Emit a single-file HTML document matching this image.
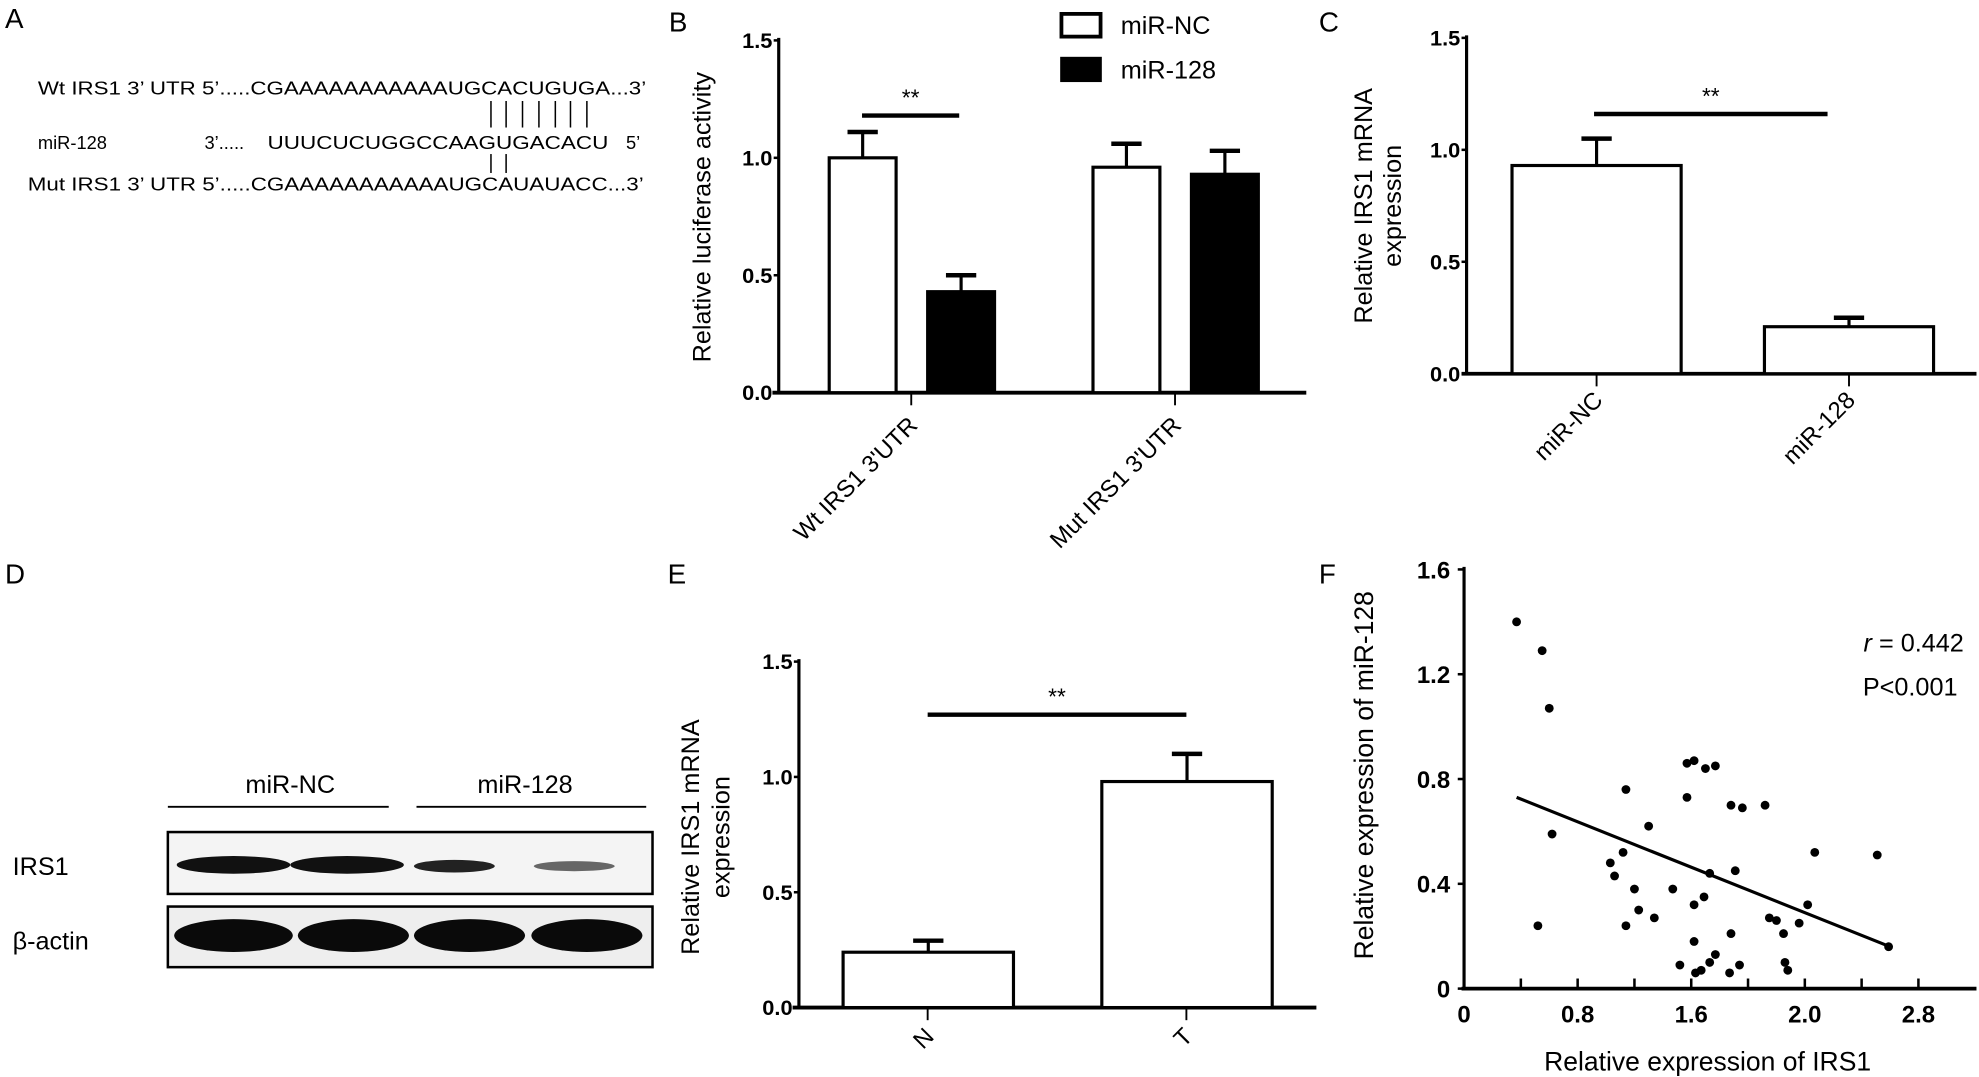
<!DOCTYPE html>
<html><head><meta charset="utf-8"><style>
html,body{margin:0;padding:0;background:#fff;}
svg{display:block;font-family:"Liberation Sans",sans-serif;}
</style></head><body>
<svg id="fig" width="1979" height="1077" viewBox="0 0 1568 853" preserveAspectRatio="none" xmlns="http://www.w3.org/2000/svg">
<g font-size="22">
<text x="4" y="22">A</text><text x="530" y="25">B</text><text x="1045" y="25">C</text>
<text x="4" y="462">D</text><text x="529" y="462">E</text><text x="1045" y="462">F</text>
</g>
<!-- Panel A -->
<g font-size="14.5">
<text x="30" y="75" textLength="482" lengthAdjust="spacingAndGlyphs">Wt IRS1 3’ UTR 5’.....CGAAAAAAAAAAAUGCACUGUGA...3’</text>
<text x="30" y="118">miR-128</text>
<text x="162" y="118">3’.....</text>
<text x="212" y="118" textLength="270" lengthAdjust="spacingAndGlyphs">UUUCUCUGGCCAAGUGACACU</text>
<text x="496" y="118">5’</text>
<text x="22" y="151" textLength="488" lengthAdjust="spacingAndGlyphs">Mut IRS1 3’ UTR 5’.....CGAAAAAAAAAAAUGCAUAUACC...3’</text>
<g stroke="#000" stroke-width="1.2">
<line x1="389" y1="80" x2="389" y2="101"/><line x1="401" y1="80" x2="401" y2="101"/><line x1="414" y1="80" x2="414" y2="101"/><line x1="427" y1="80" x2="427" y2="101"/><line x1="440" y1="80" x2="440" y2="101"/><line x1="452" y1="80" x2="452" y2="101"/><line x1="465" y1="80" x2="465" y2="101"/>
<line x1="389" y1="122" x2="389" y2="137"/><line x1="401" y1="122" x2="401" y2="137"/>
</g></g>
<!-- Panel D -->
<g>
<text x="230" y="628" font-size="20" text-anchor="middle">miR-NC</text>
<text x="416" y="628" font-size="20" text-anchor="middle">miR-128</text>
<line x1="133" y1="639" x2="308" y2="639" stroke="#000" stroke-width="1.5"/>
<line x1="330" y1="639" x2="512" y2="639" stroke="#000" stroke-width="1.5"/>
<text x="10" y="693" font-size="20">IRS1</text>
<text x="10" y="752" font-size="20">β-actin</text>
<rect x="133" y="659" width="384" height="49" fill="#f4f4f4" stroke="#000" stroke-width="2"/>
<rect x="133" y="718" width="384" height="48" fill="#eeeeee" stroke="#000" stroke-width="2"/>
<ellipse cx="185" cy="685" rx="45" ry="7" fill="#111"/>
<ellipse cx="275" cy="685" rx="45" ry="7" fill="#111"/>
<ellipse cx="360" cy="686" rx="32" ry="5" fill="#222"/>
<ellipse cx="455" cy="686" rx="32" ry="4" fill="#666"/>
<ellipse cx="185" cy="741" rx="47" ry="13" fill="#0a0a0a"/>
<ellipse cx="280" cy="741" rx="44" ry="13" fill="#0a0a0a"/>
<ellipse cx="372" cy="741" rx="44" ry="13" fill="#0a0a0a"/>
<ellipse cx="465" cy="741" rx="44" ry="13" fill="#0a0a0a"/>
</g>
<g id="gB"></g>
<g id="gC"></g>
<g id="gE"></g>
<g id="gF"></g>
</svg>
<script>
// Panel B data
const bCategories = ["Wt IRS1 3'UTR", "Mut IRS1 3'UTR"];
const bNC = [1.00, 0.96];
const bNCerr = [0.11, 0.10];
const b128 = [0.43, 0.93];
const b128err = [0.07, 0.10];
const bTicks = [0, 0.5, 1.0, 1.5];
const bTickLabels = ["0.0", "0.5", "1.0", "1.5"];
// Panel C data
const cCategories = ["miR-NC", "miR-128"];
const cValues = [0.93, 0.21];
const cErr = [0.12, 0.04];
const cTicks = [0, 0.5, 1.0, 1.5];
const cTickLabels = ["0.0", "0.5", "1.0", "1.5"];
// Panel E data
const eCategories = ["N", "T"];
const eValues = [0.24, 0.98];
const eErr = [0.05, 0.12];
const eTicks = [0, 0.5, 1.0, 1.5];
const eTickLabels = ["0.0", "0.5", "1.0", "1.5"];
// Panel F data
const fX = [0.37,0.55,0.60,0.62,0.52,1.14,1.30,1.03,1.12,1.06,1.20,1.47,1.34,1.14,1.23,1.57,1.62,1.57,1.70,1.77,1.88,1.96,2.12,2.47,2.91,1.73,1.91,1.62,1.69,2.15,2.20,2.36,2.42,2.25,1.62,1.88,1.77,1.73,1.63,1.67,1.87,2.26,2.28,2.99,1.94,1.52];
const fY = [1.40,1.29,1.07,0.59,0.24,0.76,0.62,0.48,0.52,0.43,0.38,0.38,0.27,0.24,0.30,0.86,0.87,0.73,0.84,0.85,0.70,0.69,0.70,0.52,0.51,0.44,0.45,0.32,0.35,0.27,0.26,0.25,0.32,0.21,0.18,0.21,0.13,0.10,0.06,0.07,0.06,0.10,0.07,0.16,0.09,0.09];
const fFitX = [0.37, 3.0];
const fFitY = [0.73, 0.16];
const fXTicks = [0, 0.8, 1.6, 2.4, 3.2];
const fXTickLabels = ["0", "0.8", "1.6", "2.0", "2.8"];
const fYTicks = [0, 0.4, 0.8, 1.2, 1.6];
const fYTickLabels = ["0", "0.4", "0.8", "1.2", "1.6"];

const NS = "http://www.w3.org/2000/svg";
function mk(parent, tag, attrs, txt) {
  const e = document.createElementNS(NS, tag);
  for (const k in attrs) e.setAttribute(k, attrs[k]);
  if (txt !== undefined) e.textContent = txt;
  parent.appendChild(e);
  return e;
}
function yAxis(g, x, y0, y1, vmax, ticks, labels) {
  const ys = v => y0 - (v / vmax) * (y0 - y1);
  const ax = mk(g, "line", {x1: x, y1: y0, x2: x, y2: y1 - 2, stroke: "#000", "stroke-width": 2.5});
  
  
  ticks.forEach((t, i) => {
    mk(g, "line", {x1: x - 4, y1: ys(t), x2: x, y2: ys(t), stroke: "#000", "stroke-width": 2});
    const tl = mk(g, "text", {x: x - 5, y: ys(t) + 6, "font-size": 17, "font-weight": "bold", "text-anchor": "end", textLength: 24, lengthAdjust: "spacingAndGlyphs"}, labels[i]);
    
    
  });
  return ys;
}
function bar(g, x, w, ys, v, err, fill, name) {
  const top = ys(v + err);
  mk(g, "line", {x1: x + w / 2, y1: ys(v), x2: x + w / 2, y2: top, stroke: "#000", "stroke-width": 2.5});
  mk(g, "line", {x1: x + w / 2 - 12, y1: top, x2: x + w / 2 + 12, y2: top, stroke: "#000", "stroke-width": 3.5});
  const r = mk(g, "rect", {x: x, y: ys(v), width: w, height: ys(0) - ys(v), fill: fill, stroke: "#000", "stroke-width": 2.5});
  
  
}
function xLabel(g, x, y, txt) {
  const t = mk(g, "text", {x: x, y: y, "font-size": 19, "text-anchor": "end", transform: `rotate(-45 ${x} ${y})`}, txt);
  
  
}
function sig(g, x1, x2, y) {
  const l = mk(g, "line", {x1: x1, y1: y, x2: x2, y2: y, stroke: "#000", "stroke-width": 3.5});
  
  
  mk(g, "text", {x: (x1 + x2) / 2, y: y - 8, "font-size": 18, "text-anchor": "middle"}, "**");
}

// Panel B
(function () {
  const g = document.getElementById("gB");
  const ys = yAxis(g, 617, 311, 32, 1.5, bTicks, bTickLabels);
  mk(g, "line", {x1: 612, y1: 311, x2: 1035, y2: 311, stroke: "#000", "stroke-width": 3});
  const centers = [722, 931];
  bCategories.forEach((c, i) => {
    bar(g, centers[i] - 65, 53, ys, bNC[i], bNCerr[i], "#fff", "bar-mir-nc");
    bar(g, centers[i] + 13, 53, ys, b128[i], b128err[i], "#000", "bar-mir-128");
    mk(g, "line", {x1: centers[i], y1: 311, x2: centers[i], y2: 321, stroke: "#000", "stroke-width": 1.5});
    xLabel(g, centers[i] + 6, 338, c);
  });
  sig(g, 683, 760, ys(1.18));
  const t = mk(g, "text", {x: 0, y: 0, "font-size": 20, "text-anchor": "middle", transform: "translate(563 172) rotate(-90)"}, "Relative luciferase activity");
  
  
  const l1 = mk(g, "rect", {x: 841, y: 11, width: 31, height: 18, fill: "#fff", stroke: "#000", "stroke-width": 3});
  
  
  mk(g, "text", {x: 888, y: 27, "font-size": 20}, "miR-NC");
  const l2 = mk(g, "rect", {x: 840, y: 45, width: 33, height: 20, fill: "#000"});
  
  
  mk(g, "text", {x: 888, y: 62, "font-size": 20}, "miR-128");
})();

// Panel C
(function () {
  const g = document.getElementById("gC");
  const ys = yAxis(g, 1162, 296, 30, 1.5, cTicks, cTickLabels);
  mk(g, "line", {x1: 1158, y1: 296, x2: 1566, y2: 296, stroke: "#000", "stroke-width": 3});
  const centers = [1265, 1465];
  cCategories.forEach((c, i) => {
    bar(g, centers[i] - 67, 134, ys, cValues[i], cErr[i], "#fff", "bar-" + c.toLowerCase());
    mk(g, "line", {x1: centers[i], y1: 296, x2: centers[i], y2: 306, stroke: "#000", "stroke-width": 1.5});
    xLabel(g, centers[i] + 6, 318, c);
  });
  sig(g, 1263, 1448, ys(1.16));
  mk(g, "text", {x: 0, y: 0, "font-size": 20, "text-anchor": "middle", transform: "translate(1087 163) rotate(-90)"}, "Relative IRS1 mRNA");
  mk(g, "text", {x: 0, y: 0, "font-size": 20, "text-anchor": "middle", transform: "translate(1110 163) rotate(-90)"}, "expression");
})();

// Panel E
(function () {
  const g = document.getElementById("gE");
  const ys = yAxis(g, 633, 798, 524, 1.5, eTicks, eTickLabels);
  mk(g, "line", {x1: 628, y1: 798, x2: 1043, y2: 798, stroke: "#000", "stroke-width": 3});
  const centers = [735, 940];
  eCategories.forEach((c, i) => {
    bar(g, centers[i] - 67, 135, ys, eValues[i], eErr[i], "#fff", "bar-" + c.toLowerCase());
    mk(g, "line", {x1: centers[i], y1: 798, x2: centers[i], y2: 808, stroke: "#000", "stroke-width": 1.5});
    xLabel(g, centers[i] + 6, 822, c);
  });
  sig(g, 735, 940, ys(1.27));
  mk(g, "text", {x: 0, y: 0, "font-size": 20, "text-anchor": "middle", transform: "translate(554 663) rotate(-90)"}, "Relative IRS1 mRNA");
  mk(g, "text", {x: 0, y: 0, "font-size": 20, "text-anchor": "middle", transform: "translate(578 663) rotate(-90)"}, "expression");
})();

// Panel F
(function () {
  const g = document.getElementById("gF");
  const xs = v => 1160 + v / 3.2 * 360;
  const ys = v => 783 - v / 1.6 * 332;
  mk(g, "line", {x1: 1160, y1: 783, x2: 1160, y2: 449, stroke: "#000", "stroke-width": 2.5});
  mk(g, "line", {x1: 1158, y1: 783, x2: 1566, y2: 783, stroke: "#000", "stroke-width": 3});
  fYTicks.forEach((t, i) => {
    mk(g, "line", {x1: 1155, y1: ys(t), x2: 1160, y2: ys(t), stroke: "#000", "stroke-width": 2});
    const tl = mk(g, "text", {x: 1149, y: ys(t) + 7, "font-size": 19, "font-weight": "bold", "text-anchor": "end"}, fYTickLabels[i]);
    
    
  });
  for (let i = 0; i <= 8; i++) {
    const v = i * 0.4;
    mk(g, "line", {x1: xs(v), y1: 783, x2: xs(v), y2: 775, stroke: "#000", "stroke-width": 2});
  }
  fXTicks.forEach((t, i) => {
    const tl = mk(g, "text", {x: xs(t), y: 810, "font-size": 19, "font-weight": "bold", "text-anchor": "middle"}, fXTickLabels[i]);
    
    
  });
  fX.forEach((x, i) => {
    const c = mk(g, "circle", {cx: xs(x), cy: ys(fY[i]), r: 3.5, fill: "#000"});
    
    
  });
  const fl = mk(g, "line", {x1: xs(fFitX[0]), y1: ys(fFitY[0]), x2: xs(fFitX[1]), y2: ys(fFitY[1]), stroke: "#000", "stroke-width": 2.5});
  
  
  const r = mk(g, "text", {x: 1556, y: 516, "font-size": 20, "text-anchor": "end"});
  mk(r, "tspan", {"font-style": "italic"}, "r");
  mk(r, "tspan", {}, " = 0.442");
  mk(g, "text", {x: 1551, y: 551, "font-size": 20, "text-anchor": "end"}, "P<0.001");
  const xt = mk(g, "text", {x: 1353, y: 848, "font-size": 21, "text-anchor": "middle"}, "Relative expression of IRS1");
  
  
  const yt = mk(g, "text", {x: 0, y: 0, "font-size": 21, "text-anchor": "middle", transform: "translate(1088 614) rotate(-90)"}, "Relative expression of miR-128");
  
  
})();
</script>
</body></html>
